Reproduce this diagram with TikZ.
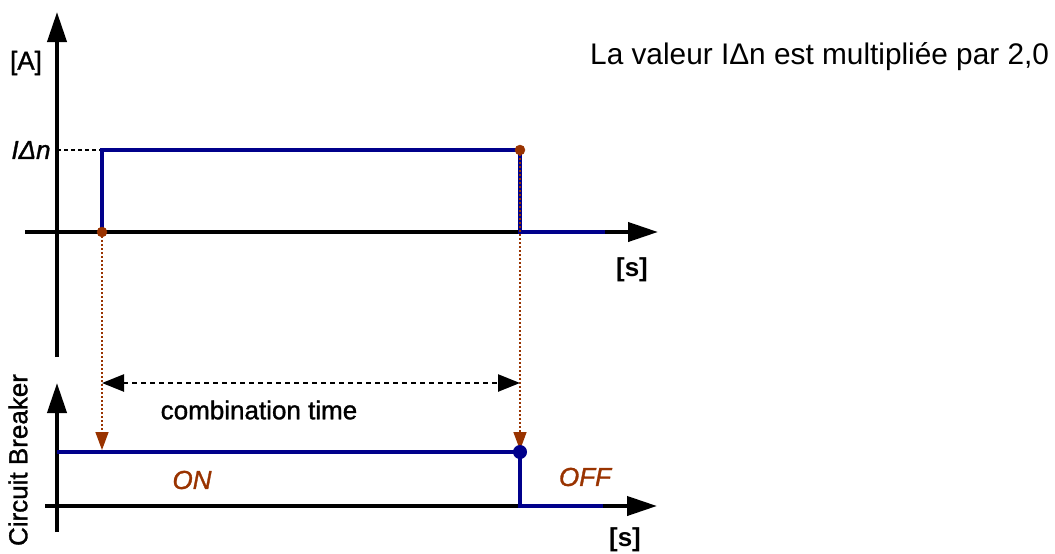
\documentclass[tikz,border=0pt]{standalone}
\usepackage{fontspec}
\setmainfont{Liberation Sans}
\newfontfamily\medfont{Liberation Sans}[FakeBold=1.2]
\newfontfamily\meditfont{Liberation Sans Italic}[FakeBold=1.2]
\usetikzlibrary{arrows.meta}
\definecolor{navy}{RGB}{0,0,139}
\definecolor{rust}{RGB}{153,51,0}
\tikzset{
  axis/.style={line width=4pt,-{Triangle[length=30pt,width=19pt]}},
  signal/.style={line width=4pt,navy},
  guide/.style={line width=1.5pt,rust,dash pattern=on 2pt off 2pt,-{Triangle[length=18pt,width=13pt]}},
  lvl/.style={line width=2pt,black,dash pattern=on 4pt off 3pt},
  span/.style={line width=2.5pt,black,dash pattern=on 5pt off 4pt,{Triangle[length=22pt,width=17pt]}-{Triangle[length=22pt,width=17pt]}},
  lbl/.style={inner sep=0pt,font=\fontsize{26}{30}\selectfont\medfont},
  itlbl/.style={inner sep=0pt,font=\fontsize{26}{30}\selectfont\meditfont},
  state/.style={itlbl,rust},
  dotb/.style={circle,fill=rust,draw=rust,inner sep=0pt,minimum size=10pt},
}
\begin{document}
\begin{tikzpicture}[x=1pt,y=-1pt]
\useasboundingbox (0,0) rectangle (1055,554);
% top chart coordinates
\coordinate (tyb) at (57,357);
\coordinate (tyt) at (57,12);
\coordinate (txl) at (25,232);
\coordinate (txr) at (658,232);
\coordinate (ty0) at (57,150);
\coordinate (p0) at (102,232);
\coordinate (p1) at (102,150);
\coordinate (p2) at (520,150);
\coordinate (p3) at (520,232);
\coordinate (p4) at (605,232);
% bottom chart coordinates
\coordinate (byb) at (57,532);
\coordinate (byt) at (57,383);
\coordinate (bxl) at (45,506);
\coordinate (bxr) at (657,506);
\coordinate (q0) at (57,452);
\coordinate (q1) at (520,452);
\coordinate (q2) at (520,506);
\coordinate (q3) at (603,506);
\coordinate (g0) at (102,450);
\coordinate (g1) at (520,450);
\coordinate (c0) at (102,383);
\coordinate (c1) at (520,383);
% axes
\draw[axis] (tyb) -- (tyt);
\draw[axis] (txl) -- (txr);
\draw[axis] (byb) -- (byt);
\draw[axis] (bxl) -- (bxr);
% level line
\draw[lvl] (ty0) -- (p1);
% signal
\draw[signal] (p0) -- (p1) -- (p2) -- (p3) -- (p4);
\draw[signal] (q0) -- (q1) -- (q2) -- (q3);
% guides
\draw[guide] (p0) -- (g0);
\draw[guide] (p2) -- (g1);
\node[dotb] (d0) at (p0) {};
\node[dotb] (d1) at (p2) {};
\node[circle,fill=navy,inner sep=0pt,minimum size=14pt] (d2) at (q1) {};
% combination time
\draw[span] (c0) -- (c1);
% labels
\node[lbl] (la) at (26,63) {[A]};
\node[itlbl] (li) at (31,150) {IΔn};
\node[lbl,font=\fontsize{26}{30}\selectfont\bfseries] (ls1) at (632,270) {[s]};
\node[lbl,font=\fontsize{26}{30}\selectfont\bfseries] (ls2) at (625,540) {[s]};
\node[lbl] (lc) at (259,410) {combination time};
\node[state] (lon) at (192,480) {ON};
\node[state] (loff) at (585,477) {OFF};
\node[lbl,rotate=90] (lcb) at (18,460) {Circuit Breaker};
\node[inner sep=0pt,anchor=west,font=\fontsize{29.8}{34}\selectfont] (lt) at (590,57) {La valeur IΔn est multipliée par 2,0};
\end{tikzpicture}
\end{document}
